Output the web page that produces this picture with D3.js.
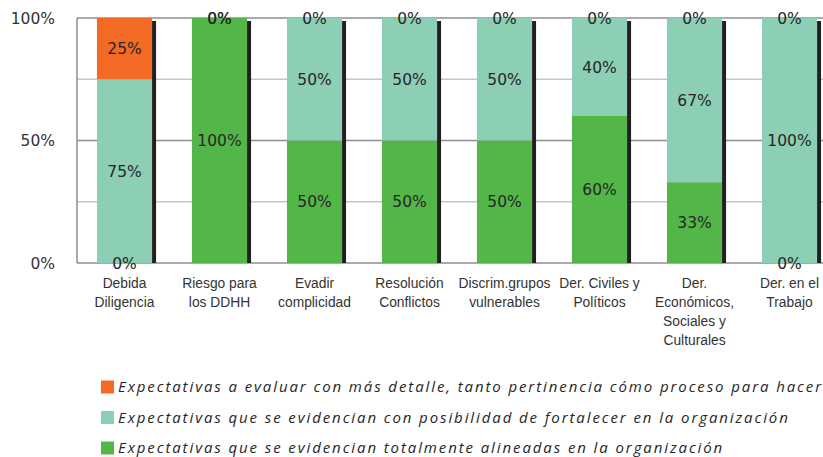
<!doctype html>
<html>
<head>
<meta charset="utf-8">
<script src="https://cdn.jsdelivr.net/npm/d3@7"></script>
<style>
    html, body { margin: 0; padding: 0; background: #fff; }
    svg { display: block; }
    .val { font-family: "DejaVu Sans", sans-serif; font-size: 15.5px; fill: #262626; }
    .ytick { font-family: "DejaVu Sans", sans-serif; font-size: 15.5px; fill: #333; }
    .cat { font-family: "Liberation Sans", Arial, sans-serif; font-size: 13.8px; fill: #333; }
    .leg { font-family: "Open Sans", sans-serif; font-style: italic; font-size: 15px; fill: #262626; letter-spacing: 1.9px; }
</style>
</head>
<body>
<svg id="chart" width="823" height="457"></svg>
<script>
    // categories (label lines)
    var categories = [
        ["Debida", "Diligencia"],
        ["Riesgo para", "los DDHH"],
        ["Evadir", "complicidad"],
        ["Resolución", "Conflictos"],
        ["Discrim.grupos", "vulnerables"],
        ["Der. Civiles y", "Políticos"],
        ["Der.", "Económicos,", "Sociales y", "Culturales"],
        ["Der. en el", "Trabajo"]
    ];
    // % per series, bottom to top of each stack
    var alineadas  = [0, 100, 50, 50, 50, 60, 33, 0];
    var fortalecer = [75, 0, 50, 50, 50, 40, 67, 100];
    var evaluar    = [25, 0, 0, 0, 0, 0, 0, 0];

    var yTicks = [0, 50, 100];
    var gridTicks = [25, 75];

    var seriesNames = [
        "Expectativas que se evidencian totalmente alineadas en la organización",
        "Expectativas que se evidencian con posibilidad de fortalecer en la organización",
        "Expectativas a evaluar con más detalle, tanto pertinencia cómo proceso para hacer"
    ];
    var seriesColors = ["#52b748", "#8dcfb5", "#f26a24"];

    var svg = d3.select("#chart");
    var plotLeft = 77, plotTop = 18, plotBottom = 263;

    var keys = categories.map(function(c, i){ return i; });
    var x = d3.scaleBand().domain(keys).range([plotLeft, plotLeft + 8 * 95]).paddingInner(0.42).paddingOuter(0.21);
    var y = d3.scaleLinear().domain([0, 100]).range([plotBottom, plotTop]);

    var rows = keys.map(function(i){
        return {i: i, a: alineadas[i], f: fortalecer[i], e: evaluar[i]};
    });
    var layers = d3.stack().keys(["a", "f", "e"])(rows);

    // grid
    svg.append("g").selectAll("line").data(gridTicks).enter().append("line")
        .attr("x1", plotLeft).attr("x2", 823)
        .attr("y1", function(d){ return y(d); }).attr("y2", function(d){ return y(d); })
        .attr("stroke", "#c6c6c6").attr("stroke-width", 1.5);
    svg.append("g").selectAll("line").data(yTicks).enter().append("line")
        .attr("x1", plotLeft).attr("x2", 823)
        .attr("y1", function(d){ return y(d); }).attr("y2", function(d){ return y(d); })
        .attr("stroke", "#8e8e90").attr("stroke-width", 1.5);
    svg.append("line").attr("x1", plotLeft).attr("x2", plotLeft).attr("y1", y(100)).attr("y2", y(0))
        .attr("stroke", "#8e8e90").attr("stroke-width", 1.5);

    // bar shadows
    svg.append("g").selectAll("rect").data(rows).enter().append("rect")
        .attr("x", function(d){ return x(d.i) + x.bandwidth(); })
        .attr("y", y(100) + 3)
        .attr("width", 4)
        .attr("height", y(0) - y(100) - 3)
        .attr("fill", "#231f20");

    // bars
    layers.forEach(function(layer, li){
        svg.append("g").selectAll("rect").data(layer).enter().append("rect")
            .attr("x", function(d, i){ return x(i); })
            .attr("y", function(d){ return y(d[1]); })
            .attr("width", x.bandwidth())
            .attr("height", function(d){ return y(d[0]) - y(d[1]); })
            .attr("fill", seriesColors[li]);
    });

    // value labels
    layers.forEach(function(layer){
        svg.append("g").selectAll("text").data(layer).enter().append("text")
            .attr("class", "val")
            .attr("x", function(d, i){ return x(i) + x.bandwidth() / 2; })
            .attr("y", function(d){ return y((d[0] + d[1]) / 2); })
            .attr("dy", "0.36em")
            .attr("text-anchor", "middle")
            .text(function(d){ return (d[1] - d[0]) + "%"; });
    });

    // y tick labels
    svg.append("g").selectAll("text").data(yTicks).enter().append("text")
        .attr("class", "ytick")
        .attr("x", 55).attr("y", function(d){ return y(d); })
        .attr("dy", "0.36em").attr("text-anchor", "end")
        .text(function(d){ return d + "%"; });

    // category labels
    var cat = svg.append("g").selectAll("text").data(categories).enter().append("text")
        .attr("class", "cat")
        .attr("text-anchor", "middle")
        .attr("x", function(d, i){ return x(i) + x.bandwidth() / 2; })
        .attr("y", 288);
    cat.selectAll("tspan").data(function(d){ return d; }).enter().append("tspan")
        .attr("x", function(){ return d3.select(this.parentNode).attr("x"); })
        .attr("dy", function(d, j){ return j ? 19 : 0; })
        .text(function(d){ return d; });

    // legend (top row is last series)
    var legOrder = [2, 1, 0];
    var leg = svg.append("g").selectAll("g").data(legOrder).enter().append("g")
        .attr("transform", function(d, j){ return "translate(101," + (387 + j * 30.5) + ")"; });
    leg.append("rect").attr("x", 0).attr("y", -6.5).attr("width", 13).attr("height", 13)
        .attr("fill", function(d){ return seriesColors[d]; });
    leg.append("text").attr("class", "leg").attr("x", 17).attr("dy", "0.36em")
        .text(function(d){ return seriesNames[d]; });
</script>
</body>
</html>
